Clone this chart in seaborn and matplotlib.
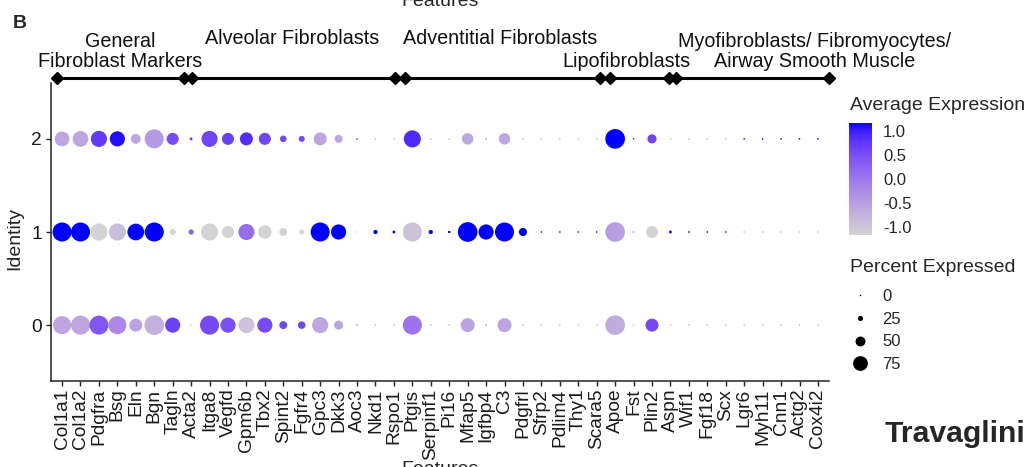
import numpy as np
import pandas as pd
import matplotlib
matplotlib.use("Agg")
import matplotlib.pyplot as plt
import matplotlib.colors as mcolors
import matplotlib.transforms as mtransforms
from matplotlib.lines import Line2D
import seaborn as sns

# ---------------------------------------------------------------- data
genes = ["Col1a1", "Col1a2", "Pdgfra", "Bsg", "Eln", "Bgn", "Tagln",
         "Acta2", "Itga8", "Vegfd", "Gpm6b", "Tbx2", "Spint2", "Fgfr4",
         "Gpc3", "Dkk3", "Aoc3", "Nkd1", "Rspo1", "Ptgis", "Serpinf1",
         "Pi16", "Mfap5", "Igfbp4", "C3", "Pdgfrl", "Sfrp2", "Pdlim4",
         "Thy1", "Scara5", "Apoe", "Fst", "Plin2", "Aspn", "Wif1",
         "Fgf18", "Scx", "Lgr6", "Myh11", "Cnn1", "Actg2", "Cox4i2"]
identities = [0, 1, 2]

# percent of cells expressing each gene, per identity
pct_id0 = [92, 97, 97, 92, 66, 100, 77, 3, 97, 77, 82, 77, 40, 38,
           82, 46, 2, 3, 2, 97, 2, 2, 71, 5, 71, 2, 1, 1,
           1, 1, 100, 1, 66, 1, 1, 1, 1, 1, 1, 1, 1, 1]
pct_id1 = [97, 97, 87, 87, 85, 97, 30, 25, 87, 61, 82, 68, 40, 24,
           97, 77, 2, 20, 12, 97, 20, 10, 100, 77, 97, 41, 3, 3,
           3, 3, 100, 2, 61, 12, 4, 4, 3, 1, 1, 1, 1, 1]
pct_id2 = [75, 80, 82, 77, 50, 97, 61, 12, 82, 61, 66, 61, 33, 30,
           66, 40, 2, 2, 1, 87, 2, 2, 58, 5, 58, 2, 1, 1,
           1, 1, 100, 2, 46, 1, 1, 1, 1, 3, 3, 3, 3, 3]

# scaled average expression (z-score across identities)
z_id0 = [-0.58, -0.58, 0.40, -0.23, -0.55, -0.72, 0.65, -1.10, 0.55, 0.50,
         -0.95, 0.55, 0.58, 0.58, -0.58, -0.58, 0.00, -0.58, -0.58, 0.05,
         -0.58, -0.58, -0.55, -0.58, -0.58, -0.58, -0.58, -0.58, -0.58, -0.58,
         -0.68, -1.00, 0.55, -0.58, -0.58, -0.58, -0.58, -0.58, -0.58, -0.58,
         -0.58, -0.58]
z_id1 = [1.15, 1.15, -1.13, -0.88, 1.15, 1.15, -1.15, 0.30, -1.15, -1.15,
         0.10, -1.15, -1.15, -1.15, 1.15, 1.15, -1.00, 1.15, 1.15, -0.93,
         1.15, 1.15, 1.15, 1.15, 1.15, 1.15, 1.15, 1.15, 1.15, 1.15,
         -0.47, 0.00, -1.15, 1.15, 1.15, 1.15, 1.15, -0.58, -0.58, -0.58,
         -0.58, -0.58]
z_id2 = [-0.58, -0.58, 0.73, 1.10, -0.60, -0.43, 0.50, 0.80, 0.60, 0.65,
         0.85, 0.60, 0.58, 0.58, -0.58, -0.58, 1.00, -0.58, -0.58, 0.88,
         -0.58, -0.58, -0.60, -0.58, -0.58, -0.58, -0.58, -0.58, -0.58, -0.58,
         1.15, 1.00, 0.60, -0.58, -0.58, -0.58, -0.58, 1.15, 1.15, 1.15,
         1.15, 1.15]

group_labels = ["General\nFibroblast Markers", "Alveolar Fibroblasts",
                "Adventitial Fibroblasts", "Lipofibroblasts",
                "Myofibroblasts/ Fibromyocytes/\nAirway Smooth Muscle"]
group_spans = [(-0.27, 6.6), (7.05, 18.06), (18.6, 29.2), (29.7, 32.9), (33.3, 41.6)]
group_label_x = [3.15, 12.5, 23.75, 30.6, 40.8]
group_label_lower = [True, False, False, True, True]   # last line sits on the lower row

legend_pct = [0, 25, 50, 75]
cbar_ticks = [1.0, 0.5, 0.0, -0.5, -1.0]
cbar_ticklabels = ["1.0", "0.5", "0.0", "-0.5", "-1.0"]

df = pd.DataFrame({
    "gene": genes * 3,
    "identity": np.repeat(identities, len(genes)),
    "pct": pct_id0 + pct_id1 + pct_id2,
    "avg_exp": z_id0 + z_id1 + z_id2,
})

# ------------------------------------------ lightgrey -> blue in Lab space
_M = np.array([[0.4124, 0.3576, 0.1805],
               [0.2126, 0.7152, 0.0722],
               [0.0193, 0.1192, 0.9505]])
_WHITE = np.array([0.95047, 1.0, 1.08883])


def srgb_to_lab(rgb):
    rgb = np.asarray(rgb, float)
    lin = np.where(rgb <= 0.04045, rgb / 12.92, ((rgb + 0.055) / 1.055) ** 2.4)
    t = (_M @ lin) / _WHITE
    d = 6 / 29
    f = np.where(t > d ** 3, np.cbrt(t), t / (3 * d * d) + 4 / 29)
    return np.array([116 * f[1] - 16, 500 * (f[0] - f[1]), 200 * (f[1] - f[2])])


def lab_to_srgb(lab):
    L, a, b = lab
    fy = (L + 16) / 116
    f = np.array([fy + a / 500, fy, fy - b / 200])
    d = 6 / 29
    t = np.where(f > d, f ** 3, 3 * d * d * (f - 4 / 29))
    lin = np.clip(np.linalg.inv(_M) @ (t * _WHITE), 0, 1)
    rgb = np.where(lin <= 0.0031308, 12.92 * lin, 1.055 * lin ** (1 / 2.4) - 0.055)
    return np.clip(rgb, 0, 1)


lab_lo = srgb_to_lab(mcolors.to_rgb("lightgrey"))
lab_hi = srgb_to_lab(mcolors.to_rgb("blue"))
cmap = mcolors.ListedColormap(
    [lab_to_srgb(lab_lo + (lab_hi - lab_lo) * t) for t in np.linspace(0, 1, 256)])

zlim = 2 / np.sqrt(3)
hue_norm = mcolors.Normalize(-zlim, zlim)
size_norm = mcolors.PowerNorm(gamma=2, vmin=0, vmax=100)
size_range = (1.2, 200)

# ---------------------------------------------------------------- figure
sns.set_theme(style="white")
plt.rcParams["font.family"] = ["Liberation Sans", "DejaVu Sans"]
plt.rcParams["axes.unicode_minus"] = False

W, H = 1033, 467
fig = plt.figure(figsize=(W / 100, H / 100), dpi=100)
fig.patch.set_facecolor("white")
ax = fig.add_axes([51 / W, 1 - 381 / H, (829 - 51) / W, (381 - 83) / H])

sns.scatterplot(data=df, x="gene", y="identity", hue="avg_exp", size="pct",
                palette=cmap, hue_norm=hue_norm, sizes=size_range,
                size_norm=size_norm, linewidth=0, legend=False, ax=ax)

ax.set_xlim(-0.6, len(genes) - 0.4)
ax.set_ylim(-0.6, 2.6)
ax.set_yticks(identities)
ax.set_xlabel("")
ax.set_ylabel("")
for side in ("top", "right"):
    ax.spines[side].set_visible(False)
for side in ("left", "bottom"):
    ax.spines[side].set_color("#222222")
    ax.spines[side].set_linewidth(1.1)
ax.tick_params(axis="x", labelrotation=90, labelsize=13.8, length=3.5,
               width=1, color="#222222", pad=2, bottom=True)
ax.tick_params(axis="y", labelsize=13.8, length=3.5, width=1,
               color="#222222", pad=3, left=True)
for lab in ax.get_xticklabels() + ax.get_yticklabels():
    lab.set_color("#1a1a1a")

# group brackets above the panel
ax_h = 381 - 83
trans = mtransforms.blended_transform_factory(ax.transData, ax.transAxes)
y_br = 1 + 5 / ax_h
for (x0, x1) in group_spans:
    ax.plot([x0, x1], [y_br, y_br], transform=trans, color="black", lw=2.2,
            marker="D", markersize=6, solid_capstyle="butt", clip_on=False)
for label, xc, lower in zip(group_labels, group_label_x, group_label_lower):
    base_px = 67 if lower else 44
    ax.text(xc, 1 + (83 - base_px) / ax_h, label, transform=trans, ha="center",
            va="baseline", multialignment="center", fontsize=14.2,
            color="#111111", linespacing=1.05, clip_on=False)

# axis titles and panel texts
fig.text(440 / W, 1 - 6 / H, "Features", ha="center", va="baseline", fontsize=14)
fig.text(440 / W, -7 / H, "Features", ha="center", va="baseline", fontsize=14)
fig.text(15 / W, 1 - 238 / H, "Identity", rotation=90, ha="center",
         va="center", fontsize=14)
fig.text(13 / W, 1 - 28 / H, "B", ha="left", va="baseline", fontsize=14,
         fontweight="bold")
fig.text(885 / W, 1 - 442 / H, "Travaglini", ha="left", va="baseline",
         fontsize=21.7, fontweight="bold")

# colour legend
fig.text(850 / W, 1 - 105 / H, "Average Expression", ha="left", va="center",
         fontsize=14)
cax = fig.add_axes([849 / W, 1 - 235 / H, 23 / W, 112 / H])
sm = plt.cm.ScalarMappable(norm=hue_norm, cmap=cmap)
cb = fig.colorbar(sm, cax=cax)
cb.outline.set_visible(False)
cb.set_ticks(cbar_ticks)
cb.set_ticklabels(cbar_ticklabels)
cax.tick_params(axis="y", direction="in", length=4.5, width=0.8, color="white",
                left=True, right=True, labelleft=False, labelright=True,
                labelsize=12, pad=8)

# size legend, built from the same size mapping as the dots
def dot_area(p):
    return size_range[0] + float(size_norm(p)) * (size_range[1] - size_range[0])


fig.text(850 / W, 1 - 268 / H, "Percent Expressed", ha="left", va="center",
         fontsize=14)
handles = [Line2D([], [], linestyle="none", marker="o", color="black",
                  markeredgewidth=0, markersize=np.sqrt(dot_area(p)))
           for p in legend_pct]
leg = fig.legend(handles, [str(p) for p in legend_pct],
                 loc="upper left", bbox_to_anchor=(850 / W, 1 - 289 / H),
                 frameon=False, fontsize=12, handlelength=1.2,
                 handletextpad=0.72, labelspacing=0.46, borderpad=0,
                 borderaxespad=0)

fig.savefig("out.png", dpi=100, facecolor="white")
